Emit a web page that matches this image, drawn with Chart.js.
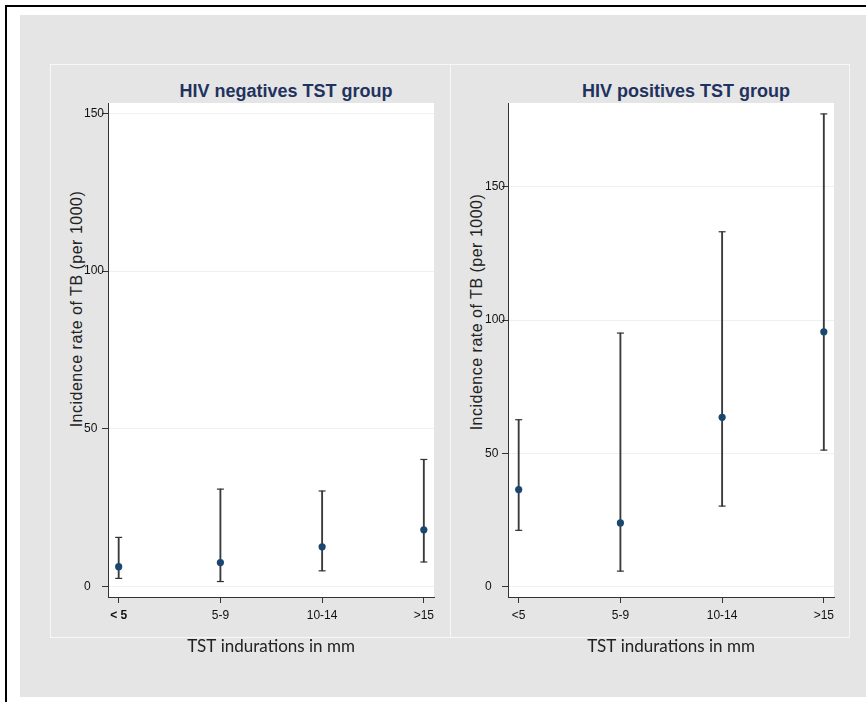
<!DOCTYPE html>
<html>
<head>
<meta charset="utf-8">
<script src="https://cdn.jsdelivr.net/npm/chart.js@4/dist/chart.umd.min.js"></script>
<style>
    html, body { margin: 0; padding: 0; background: #fff; }
    body { width: 866px; height: 702px; position: relative; overflow: hidden; font-family: "Liberation Sans", Arial, sans-serif; }
    .frame { position: absolute; left: 5px; top: 5px; width: 900px; height: 800px; border-left: 2px solid #000; border-top: 2px solid #000; }
    .bg { position: absolute; left: 20px; top: 15px; width: 846px; height: 682px; background: #e5e5e5; }
    .panel { position: absolute; left: 50px; top: 64px; width: 798px; height: 572px; border: 1px solid #f7f7f7; }
    .divider { position: absolute; left: 450px; top: 64px; width: 1px; height: 574px; background: #f7f7f7; }
    .title { position: absolute; width: 320px; text-align: center; font-weight: bold; font-size: 18px; line-height: 18px; color: #1f3260; }
    .ytitle { position: absolute; width: 280px; height: 20px; line-height: 20px; text-align: center; font-size: 16px; letter-spacing: 0.5px; color: #222; transform: rotate(-90deg); }
    .box { position: absolute; top: 64px; width: 400px; height: 600px; }
</style>
</head>
<body>
<div class="frame"></div>
<div class="bg"></div>
<div class="panel"></div>
<div class="divider"></div>

<div class="title" style="left:126px; top:82px;">HIV negatives TST group</div>
<div class="title" style="left:526px; top:82px;">HIV positives TST group</div>
<div class="ytitle" style="left:-63px; top:299px;">Incidence rate of TB (per 1000)</div>
<div class="ytitle" style="left:337px; top:302px;">Incidence rate of TB (per 1000)</div>

<div class="box" style="left:50px;"><canvas id="negChart" width="400" height="600"></canvas></div>
<div class="box" style="left:450px;"><canvas id="posChart" width="400" height="600"></canvas></div>

<script>
// Categories (TST induration groups)
const negLabels = ['< 5', '5-9', '10-14', '>15'];
const posLabels = ['<5', '5-9', '10-14', '>15'];

// HIV negatives: incidence rate and 95% CI
const negRate = [6.3, 7.6, 12.6, 18.0];
const negLower = [2.6, 1.6, 5.0, 7.8];
const negUpper = [15.6, 30.9, 30.3, 40.3];

// HIV positives: incidence rate and 95% CI
const posRate = [36.4, 23.9, 63.5, 95.6];
const posLower = [21.1, 5.8, 30.2, 51.2];
const posUpper = [62.6, 95.1, 133.1, 177.3];

// Y tick labels
const yTicks = [0, 50, 100, 150];

Chart.defaults.font.family = '"Liberation Sans", Arial, sans-serif';
Chart.defaults.color = '#222';

// white plot region
const plotBg = {
    id: 'plotBg',
    beforeDraw(chart) {
        const { ctx, chartArea: a } = chart;
        ctx.save();
        ctx.fillStyle = '#ffffff';
        ctx.fillRect(a.left, a.top, a.right - a.left, a.bottom - a.top);
        ctx.restore();
    }
};

function buildPanel(canvasId, labels, rate, lower, upper, yMin, yMax, padLeft, boldFirst) {
    const idx = labels.map((_, i) => i);

    return new Chart(document.getElementById(canvasId), {
        type: 'scatter',
        data: {
            datasets: [
                {
                    type: 'scatter',
                    data: idx.map(i => ({ x: i, y: rate[i] })),
                    pointRadius: 3.6,
                    pointBackgroundColor: '#1a476f',
                    pointBorderColor: '#1a476f',
                    pointBorderWidth: 0,
                    order: 0
                },
                {
                    type: 'scatter',
                    data: idx.flatMap(i => [{ x: i, y: lower[i] }, { x: i, y: upper[i] }]),
                    pointStyle: 'line',
                    pointRadius: 3.5,
                    pointBorderColor: '#333',
                    pointBorderWidth: 1.2,
                    order: 1
                },
                {
                    type: 'bar',
                    data: idx.map(i => ({ x: i, y: [lower[i], upper[i]] })),
                    backgroundColor: '#3a3a3a',
                    barThickness: 1.2,
                    borderWidth: 0,
                    order: 2
                }
            ]
        },
        options: {
            responsive: false,
            animation: false,
            layout: { padding: { left: padLeft, right: 16, top: 39, bottom: 7 } },
            plugins: {
                legend: { display: false },
                tooltip: { enabled: false }
            },
            scales: {
                x: {
                    type: 'linear',
                    offset: false,
                    min: -0.105,
                    max: 3.1,
                    afterBuildTicks: s => { s.ticks = idx.map(v => ({ value: v })); },
                    afterFit: s => { s.height = 60; },
                    grid: { offset: false, drawOnChartArea: false, drawTicks: true, tickLength: 6, tickColor: '#333' },
                    border: { display: true, color: '#333', width: 1 },
                    ticks: {
                        padding: 5,
                        color: '#111',
                        font: ctx => ({ size: 12, weight: (boldFirst && ctx.index === 0) ? 'bold' : 'normal' }),
                        callback: v => labels[v] ?? ''
                    },
                    title: {
                        display: true,
                        text: 'TST indurations in mm',
                        font: { family: 'Lato, "Open Sans", sans-serif', size: 17 },
                        color: '#222',
                        padding: { top: 0, bottom: 0 }
                    }
                },
                y: {
                    type: 'linear',
                    min: yMin,
                    max: yMax,
                    afterBuildTicks: s => { s.ticks = yTicks.map(v => ({ value: v })); },
                    afterFit: s => { s.width = 58 - padLeft; },
                    grid: { color: '#eaf2f3', lineWidth: 1, drawTicks: true, tickLength: 6, tickColor: '#333' },
                    border: { display: true, color: '#333', width: 1 },
                    ticks: {
                        crossAlign: 'far',
                        padding: 2,
                        color: '#111',
                        font: { size: 12 }
                    }
                }
            }
        },
        plugins: [plotBg]
    });
}

buildPanel('negChart', negLabels, negRate, negLower, negUpper, -3.3, 153.3, 34, true);
buildPanel('posChart', posLabels, posRate, posLower, posUpper, -3.9, 181.4, 35, false);
</script>
</body>
</html>
